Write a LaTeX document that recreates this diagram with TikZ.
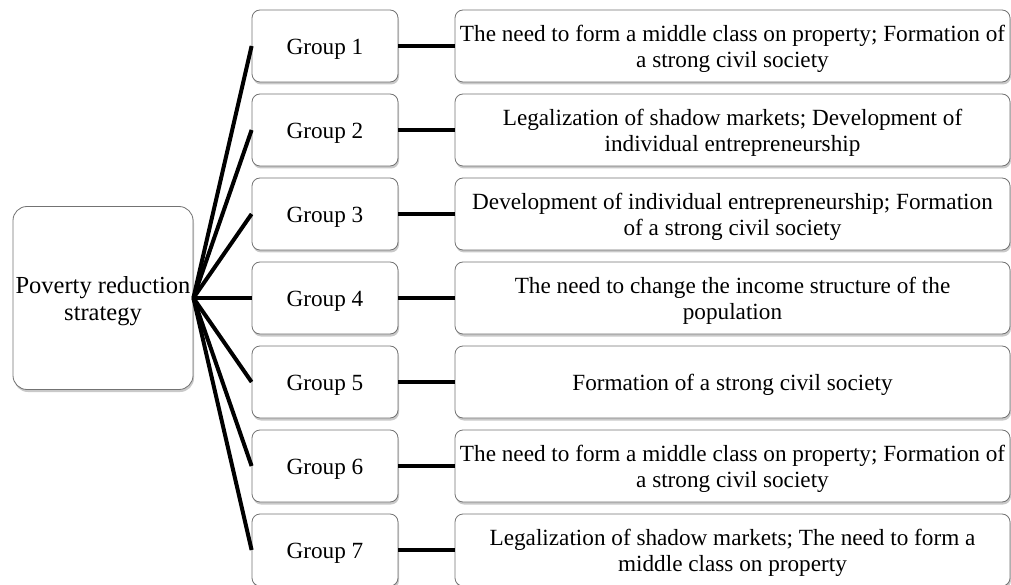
\documentclass[tikz,border=0pt]{standalone}
\usepackage{fontspec}
\setmainfont{Liberation Serif}
\usetikzlibrary{shadows}
\begin{document}
\begin{tikzpicture}[x=1pt,y=-1pt,
  box/.style={draw=black!55, line width=0.8pt, fill=white, rounded corners=8pt,
    inner sep=0pt,
    drop shadow={opacity=0.3, shadow xshift=1pt, shadow yshift=-2.5pt, fill=black!70}},
  txt/.style={align=center, inner sep=0pt, yshift=-3pt, font=\fontsize{23.2}{26}\selectfont},
  groupbox/.style={box, minimum width=146pt, minimum height=72pt},
  descbox/.style={box, minimum width=555pt, minimum height=72pt},
  link/.style={line width=4pt}]
\useasboundingbox (0,0) rectangle (1011,585);
\node[box, minimum width=180pt, minimum height=183pt, rounded corners=14pt,
  label={[txt, font=\fontsize{24.5}{27.5}\selectfont]center:Poverty reduction\\strategy}] (root) at (103,298) {};
\foreach \i/\t in {
  1/{The need to form a middle class on property; Formation of\\a strong civil society},
  2/{Legalization of shadow markets; Development of\\individual entrepreneurship},
  3/{Development of individual entrepreneurship; Formation\\of a strong civil society},
  4/{The need to change the income structure of the\\population},
  5/{Formation of a strong civil society},
  6/{The need to form a middle class on property; Formation of\\a strong civil society},
  7/{Legalization of shadow markets; The need to form a\\middle class on property}} {
  \node[groupbox, label={[txt]center:Group \i}] (g\i) at (325,{46+84*(\i-1)}) {};
  \node[descbox, label={[txt]center:\t}] (d\i) at (732.5,{46+84*(\i-1)}) {};
  \draw[link] (root.east) -- (g\i.west);
  \draw[link] (g\i.east) -- (d\i.west);
}
\end{tikzpicture}
\end{document}
